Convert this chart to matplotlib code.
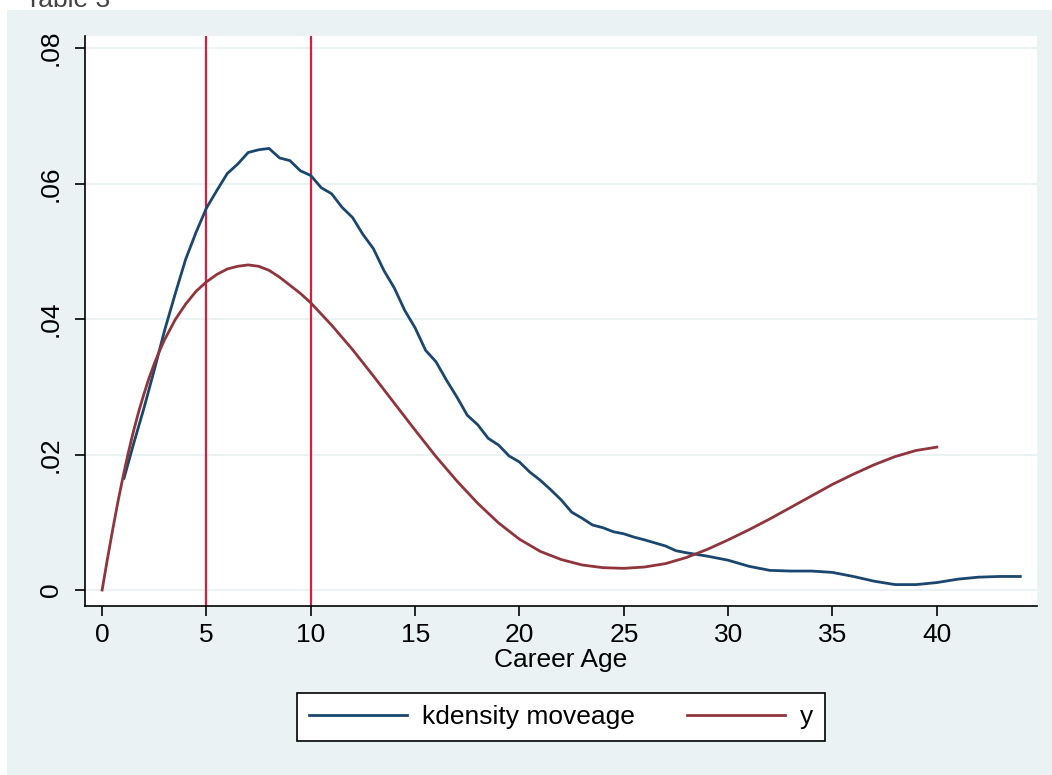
import numpy as np
import matplotlib
matplotlib.use("Agg")
import matplotlib.pyplot as plt
from matplotlib.patches import Rectangle

plt.rcParams['font.family'] = ['Liberation Sans', 'DejaVu Sans']

# kdensity moveage
kd_x = [1.05, 1.5, 2, 2.5, 3, 3.5, 4, 4.5, 5, 5.5, 6, 6.5, 7, 7.5, 8, 8.5, 9, 9.5,
        10, 10.5, 11, 11.5, 12, 12.5, 13, 13.5, 14, 14.5, 15, 15.5, 16, 16.5, 17,
        17.5, 18, 18.5, 19, 19.5, 20, 20.5, 21, 21.5, 22, 22.5, 23, 23.5, 24, 24.5,
        25, 25.5, 26, 27, 27.5, 28, 29, 30, 31, 32, 33, 34, 35, 36, 37, 38, 39, 40,
        41, 42, 43, 44]
kd_y = [0.0165, 0.0215, 0.0268, 0.0325, 0.0384, 0.0437, 0.0488, 0.0528, 0.0564,
        0.059, 0.0615, 0.0629, 0.0646, 0.0650, 0.0652, 0.0638, 0.0634, 0.0619,
        0.0612, 0.0594, 0.0585, 0.0565, 0.0550, 0.0525, 0.0504, 0.0472, 0.0446,
        0.0413, 0.0387, 0.0354, 0.0337, 0.0310, 0.0285, 0.0258, 0.0244, 0.0224,
        0.0214, 0.0198, 0.0189, 0.0174, 0.0162, 0.0148, 0.0133, 0.0115, 0.0106,
        0.0096, 0.0092, 0.0086, 0.0083, 0.0078, 0.0074, 0.0065, 0.0058, 0.0055,
        0.0050, 0.0044, 0.0035, 0.0029, 0.0028, 0.0028, 0.0026, 0.0020, 0.0013,
        0.0008, 0.0008, 0.0011, 0.0016, 0.0019, 0.0020, 0.0020]

# fitted y
fit_x = [0, 0.25, 0.5, 0.75, 1, 1.25, 1.5, 1.75, 2, 2.25, 2.5, 2.75, 3, 3.5, 4,
         4.5, 5, 5.5, 6, 6.5, 7, 7.5, 8, 8.5, 9, 9.5, 10, 11,
         12, 13, 14, 15, 16, 17, 18, 19, 20, 21, 22, 23, 24, 25, 26, 27, 28, 29,
         30, 31, 32, 33, 34, 35, 36, 37, 38, 39, 40]
fit_y = [0.0, 0.0045, 0.0088, 0.0129, 0.0167, 0.0202, 0.0234, 0.0263, 0.0289,
         0.0313, 0.0334, 0.0353, 0.0370, 0.0399, 0.0422, 0.0441, 0.0455, 0.0466,
         0.0474, 0.0478, 0.0480, 0.0478, 0.0472, 0.0462, 0.0450, 0.0438, 0.0424,
         0.0391, 0.0355, 0.0316, 0.0276, 0.0236, 0.0197, 0.0161, 0.0128,
         0.0099, 0.0075, 0.0057, 0.0045, 0.0037, 0.0033, 0.0032, 0.0034, 0.0039,
         0.0048, 0.0060, 0.0074, 0.0089, 0.0105, 0.0122, 0.0139, 0.0156, 0.0171,
         0.0185, 0.0197, 0.0206, 0.0211]

vlines = [5, 10]
xticks = [0, 5, 10, 15, 20, 25, 30, 35, 40]
yticks = [0, 0.02, 0.04, 0.06, 0.08]
ylabels = ["0", ".02", ".04", ".06", ".08"]

W, H = 1052, 775
fig = plt.figure(figsize=(W / 100, H / 100), dpi=100)
fig.patch.set_facecolor('white')
bg = '#eaf2f3'
fig.patches.append(Rectangle((7 / W, 0), 1 - 7 / W, (H - 10) / H,
                             transform=fig.transFigure, facecolor=bg,
                             edgecolor='none', zorder=-10))
fig.text(25 / W, (H - 7) / H, "Table 3", fontsize=19, color='#444444',
         va='baseline', ha='left')

ax = fig.add_axes([85 / W, (H - 606) / H, (1037 - 85) / W, (606 - 36) / H])
ax.set_facecolor('white')

for v in vlines:
    ax.axvline(v, color='#d41f3e', lw=1.6, zorder=2)
ax.plot(kd_x, kd_y, color='#1a476f', lw=2.0, label='kdensity moveage', zorder=3)
ax.plot(fit_x, fit_y, color='#90353b', lw=2.0, label='y', zorder=3)

ax.set_xlim(-0.82, 44.8)
ax.set_ylim(-0.00236, 0.0818)
ax.set_xticks(xticks)
ax.set_yticks(yticks)
ax.set_yticklabels(ylabels, rotation=90, va='center')
ax.grid(axis='y', color=bg, lw=1.5, zorder=0)
ax.set_axisbelow(True)
for s in ['top', 'right']:
    ax.spines[s].set_visible(False)
for s in ['left', 'bottom']:
    ax.spines[s].set_linewidth(1.2)
    ax.spines[s].set_color('black')
ax.tick_params(axis='both', direction='out', length=7, width=1.2, labelsize=19)
ax.tick_params(axis='y', pad=9)
ax.tick_params(axis='x', pad=5)
ax.set_xlabel("Career Age", fontsize=19, labelpad=1)

leg = fig.legend(loc='center', bbox_to_anchor=(561 / W, (H - 717) / H), ncol=2,
                 fontsize=19, frameon=True, fancybox=False, handlelength=3.7,
                 handletextpad=0.57, columnspacing=2.0, borderpad=0.45,
                 framealpha=1.0, facecolor='white')
leg.get_frame().set_edgecolor('black')
leg.get_frame().set_linewidth(1.2)

fig.savefig("out.png", dpi=100, facecolor='white')
